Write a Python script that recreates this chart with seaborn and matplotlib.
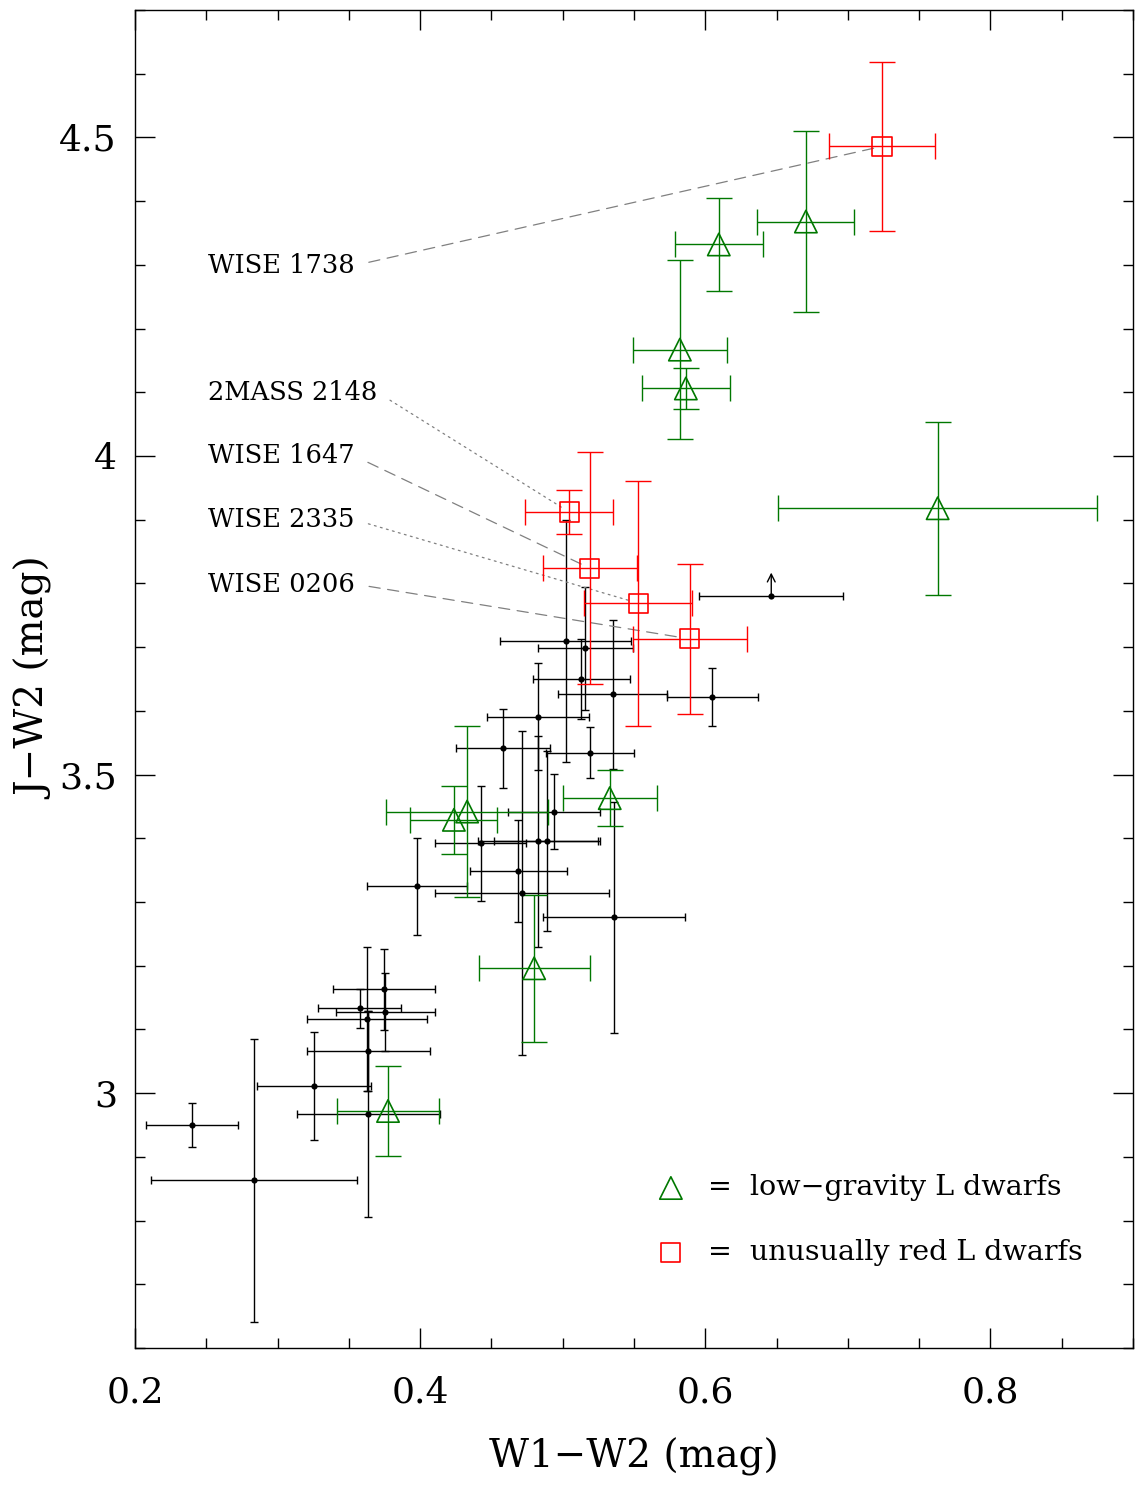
import numpy as np
import pandas as pd
import matplotlib
matplotlib.use("Agg")
import matplotlib.pyplot as plt
import seaborn as sns

# field L dwarfs (black dots)
field_x = [0.240, 0.2835, 0.3256, 0.3637, 0.3577, 0.3747, 0.3757, 0.3626, 0.3637,
           0.398, 0.4426, 0.458, 0.4828, 0.4828, 0.4889, 0.494, 0.469, 0.4718,
           0.536, 0.519, 0.535, 0.605, 0.513, 0.516, 0.502]
field_xerr = [0.032, 0.072, 0.040, 0.050, 0.029, 0.036, 0.035, 0.042, 0.043,
              0.035, 0.032, 0.033, 0.036, 0.042, 0.037, 0.032, 0.034, 0.061,
              0.050, 0.031, 0.038, 0.032, 0.034, 0.033, 0.046]
field_y = [2.950, 2.863, 3.011, 2.967, 3.133, 3.163, 3.127, 3.116, 3.066,
           3.325, 3.392, 3.541, 3.591, 3.395, 3.396, 3.442, 3.348, 3.314,
           3.276, 3.534, 3.626, 3.622, 3.650, 3.698, 3.709]
field_yerr = [0.035, 0.222, 0.085, 0.162, 0.030, 0.064, 0.061, 0.113, 0.063,
              0.076, 0.090, 0.062, 0.084, 0.166, 0.141, 0.059, 0.080, 0.254,
              0.181, 0.040, 0.117, 0.0455, 0.063, 0.097, 0.190]

# one field dwarf with only a lower limit in J-W2
limit_x = [0.6463]
limit_xerr = [0.0505]
limit_y = [3.780]
limit_len = [0.037]

# low-gravity L dwarfs (green triangles)
lowg_x = [0.6706, 0.6095, 0.5822, 0.5864, 0.763, 0.533, 0.4237, 0.433, 0.480, 0.3775]
lowg_xerr = [0.034, 0.031, 0.033, 0.031, 0.112, 0.033, 0.0305, 0.057, 0.039, 0.036]
lowg_y = [4.368, 4.332, 4.167, 4.106, 3.918, 3.463, 3.429, 3.442, 3.196, 2.972]
lowg_yerr = [0.142, 0.073, 0.140, 0.032, 0.136, 0.044, 0.053, 0.134, 0.115, 0.070]

# unusually red L dwarfs (red squares)
red_x = [0.724, 0.5046, 0.519, 0.553, 0.589]
red_xerr = [0.037, 0.031, 0.033, 0.038, 0.040]
red_y = [4.486, 3.912, 3.824, 3.769, 3.713]
red_yerr = [0.133, 0.035, 0.182, 0.192, 0.118]
red_names = ["WISE 1738", "2MASS 2148", "WISE 1647", "WISE 2335", "WISE 0206"]
label_x = [0.2512, 0.2512, 0.2512, 0.2512, 0.2512]
label_y = [4.299, 4.100, 4.000, 3.900, 3.799]
label_style = ["dashed", "dotted", "dashed", "dotted", "dashed"]

GREEN = "#007800"
RED = "#ff0000"

sns.set_style("ticks")
plt.rcParams["font.family"] = ["DejaVu Serif"]
plt.rcParams["text.color"] = "black"
plt.rcParams["axes.labelcolor"] = "black"
plt.rcParams["xtick.color"] = "black"
plt.rcParams["ytick.color"] = "black"

fig = plt.figure(figsize=(11.35, 14.91), dpi=100)
ax = fig.add_axes([0.1189, 0.0959, 0.8793, 0.8974])

field = pd.DataFrame({"x": field_x, "y": field_y})
lowg = pd.DataFrame({"x": lowg_x, "y": lowg_y})
red = pd.DataFrame({"x": red_x, "y": red_y})

# error bars
ax.errorbar(field_x, field_y, xerr=field_xerr, yerr=field_yerr, fmt="none",
            ecolor="black", elinewidth=1.0, capsize=2.6, capthick=1.0, zorder=2)
ax.errorbar(limit_x, limit_y, xerr=limit_xerr, fmt="none",
            ecolor="black", elinewidth=1.0, capsize=2.6, capthick=1.0, zorder=2)
for lx, ly, ll in zip(limit_x, limit_y, limit_len):
    ax.annotate("", xy=(lx, ly + ll), xytext=(lx, ly),
                arrowprops=dict(arrowstyle="->", color="black", lw=1.0,
                                shrinkA=0, shrinkB=0, mutation_scale=14))
ax.errorbar(lowg_x, lowg_y, xerr=lowg_xerr, yerr=lowg_yerr, fmt="none",
            ecolor=GREEN, elinewidth=1.0, capsize=9.7, capthick=1.0, zorder=3)
ax.errorbar(red_x, red_y, xerr=red_xerr, yerr=red_yerr, fmt="none",
            ecolor=RED, elinewidth=1.0, capsize=9.7, capthick=1.0, zorder=4)

# markers
sns.scatterplot(data=field, x="x", y="y", color="black", s=20, linewidth=0,
                ax=ax, zorder=5)
sns.scatterplot(x=limit_x, y=limit_y, color="black", s=20, linewidth=0, ax=ax, zorder=5)
sns.scatterplot(data=lowg, x="x", y="y", marker="^", s=260, facecolor="none",
                edgecolor=GREEN, linewidth=1.2, ax=ax, zorder=6)
sns.scatterplot(data=red, x="x", y="y", marker="s", s=190, facecolor="none",
                edgecolor=RED, linewidth=1.2, ax=ax, zorder=7)

# labels for the red objects
for name, lx, ly, sx, sy, ls in zip(red_names, label_x, label_y, red_x, red_y, label_style):
    dash = (0, (9, 6)) if ls == "dashed" else (0, (1.5, 3.5))
    ax.annotate(name, xy=(sx, sy), xytext=(lx, ly), ha="left", va="center",
                fontsize=18.5,
                arrowprops=dict(arrowstyle="-", color="gray", lw=0.9,
                                linestyle=dash, relpos=(1, 0.5),
                                shrinkA=8, shrinkB=6))

# legend drawn by hand
ax.scatter([0.537], [0.1196], marker="^", s=260, facecolor="none",
           edgecolor=GREEN, linewidth=1.2, transform=ax.transAxes)
ax.scatter([0.537], [0.0717], marker="s", s=190, facecolor="none",
           edgecolor=RED, linewidth=1.2, transform=ax.transAxes)
ax.text(0.574, 0.1196, "=  low\u2212gravity L dwarfs", transform=ax.transAxes,
        fontsize=20.5, va="center", ha="left")
ax.text(0.574, 0.0717, "=  unusually red L dwarfs", transform=ax.transAxes,
        fontsize=20.5, va="center", ha="left")

ax.set_xlim(0.2, 0.9)
ax.set_ylim(2.6, 4.7)
ax.set_xticks([0.2, 0.4, 0.6, 0.8])
ax.set_xticklabels(["0.2", "0.4", "0.6", "0.8"])
ax.set_yticks([3.0, 3.5, 4.0, 4.5])
ax.set_yticklabels(["3", "3.5", "4", "4.5"])
ax.set_xticks(np.arange(0.2, 0.91, 0.05), minor=True)
ax.set_yticks(np.arange(2.6, 4.71, 0.1), minor=True)
ax.tick_params(which="both", direction="in", top=True, right=True, width=1.0,
               color="black")
ax.tick_params(which="major", length=14.4)
ax.tick_params(which="minor", length=7.2)
ax.tick_params(axis="x", which="major", labelsize=26, pad=20)
ax.tick_params(axis="y", which="major", labelsize=26, pad=13)
for sp in ax.spines.values():
    sp.set_linewidth(1.0)
    sp.set_color("black")

ax.set_xlabel("W1\u2212W2 (mag)", fontsize=28, labelpad=20)
ax.set_ylabel("J\u2212W2 (mag)", fontsize=28, labelpad=3)

fig.savefig("out.png", dpi=100)
